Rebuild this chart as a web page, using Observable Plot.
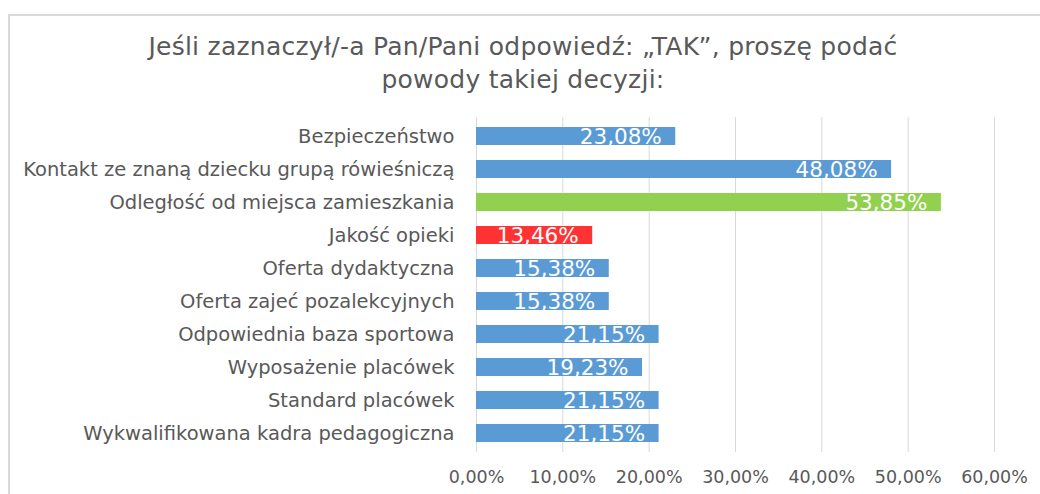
<!DOCTYPE html>
<html>
<head>
<meta charset="utf-8">
<script src="https://cdn.jsdelivr.net/npm/d3@7"></script>
<script src="https://cdn.jsdelivr.net/npm/@observablehq/plot@0.6"></script>
<style>
  html, body { margin: 0; padding: 0; background: #fff; width: 1040px; height: 494px; overflow: hidden; }
  #frame { position: absolute; left: 8px; top: 14px; width: 1100px; height: 600px; border-left: 2px solid #d9d9d9; border-top: 2px solid #d9d9d9; }
  #title { position: absolute; left: 0; top: 30px; width: 1046px; text-align: center; font-family: "DejaVu Sans", sans-serif; font-size: 25px; letter-spacing: 0.25px; line-height: 33px; color: #595959; }
  #chart { position: absolute; left: 0; top: 100px; }
</style>
</head>
<body>
<div id="frame"></div>
<div id="title">Jeśli zaznaczył/-a Pan/Pani odpowiedź: „TAK”, proszę podać<br>powody takiej decyzji:</div>
<div id="chart"></div>
<script>
const categories = [
  "Bezpieczeństwo",
  "Kontakt ze znaną dziecku grupą rówieśniczą",
  "Odległość od miejsca zamieszkania",
  "Jakość opieki",
  "Oferta dydaktyczna",
  "Oferta zajeć pozalekcyjnych",
  "Odpowiednia baza sportowa",
  "Wyposażenie placówek",
  "Standard placówek",
  "Wykwalifikowana kadra pedagogiczna"
];
const values = [23.08, 48.08, 53.85, 13.46, 15.38, 15.38, 21.15, 19.23, 21.15, 21.15];
const xTicks = [0, 10, 20, 30, 40, 50, 60];

const maxV = d3.max(values), minV = d3.min(values);
const data = categories.map((c, i) => ({
  cat: c,
  v: values[i],
  kind: values[i] === maxV ? "max" : values[i] === minV ? "min" : "other"
}));
const pct = v => v.toFixed(2).replace(".", ",") + "%";

const plot = Plot.plot({
  width: 1040,
  height: 394,
  marginLeft: 476,
  marginRight: 46,
  marginTop: 17,
  marginBottom: 42,
  style: { fontFamily: "DejaVu Sans, sans-serif", color: "#595959", background: "transparent" },
  x: { domain: [0, 60], label: null },
  y: { domain: categories, paddingInner: 0.46, paddingOuter: 0.22, label: null },
  color: { domain: ["other", "max", "min"], range: ["#5b9bd5", "#92d050", "#ff3333"] },
  marks: [
    Plot.gridX(xTicks, { stroke: "#d9d9d9", strokeOpacity: 1, strokeWidth: 1 }),
    Plot.barX(data, { x: "v", y: "cat", fill: "kind" }),
    Plot.text(data, { x: "v", y: "cat", text: d => pct(d.v), textAnchor: "end", dx: -14, dy: 1, fill: "white", fontSize: 21.5 }),
    Plot.axisX(xTicks, { tickSize: 0, tickPadding: 18, fontSize: 17.5, fill: "#595959", tickFormat: pct, label: null }),
    Plot.axisY({ tickSize: 0, tickPadding: 22, fontSize: 19.5, fill: "#595959", label: null, style: { letterSpacing: "0.5px" } })
  ]
});
document.getElementById("chart").appendChild(plot);
</script>
</body>
</html>
